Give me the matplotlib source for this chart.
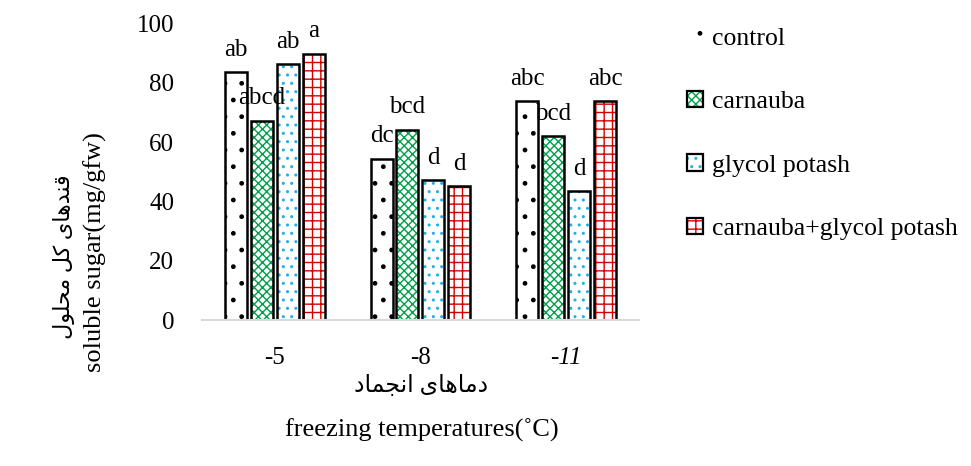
import numpy as np
import matplotlib.pyplot as plt
from matplotlib.patches import Patch
from matplotlib.legend_handler import HandlerTuple

temps = ['-5', '-8', '-11']
series = ['control', 'carnauba', 'glycol potash', 'carnauba+glycol potash']
values = [
    [83.6, 54.4, 73.8],  # control
    [67.2, 64.2, 62.0],  # carnauba
    [86.2, 47.1, 43.5],  # glycol potash
    [89.8, 45.2, 73.7],  # carnauba+glycol potash
]
letters = [
    ['ab', 'dc', 'abc'],
    ['abcd', 'bcd', 'bcd'],
    ['ab', 'd', 'd'],
    ['a', 'd', 'abc'],
]

# persian labels, written in visual order with presentation forms
fa_x = '\uFEA9\uFE8E\uFEE4\uFEA0\uFEE7\uFE8D \uFBFC\uFE8E\uFEEB\uFE8E\uFEE3\uFEA9'
fa_y = '\uFEDD\uFEEE\uFEE0\uFEA4\uFEE3 \uFEDE\uFB90 \uFBFC\uFE8E\uFEEB\uFEAA\uFEE8\uFED7'

hatch_cols = ['black', '#00a04a', '#1fb0e8', '#d40000']
hatches = ['.', 'xxxx', '..', '++']

plt.rcParams['font.family'] = ['Liberation Serif', 'DejaVu Sans']
plt.rcParams['hatch.linewidth'] = 1.0

fig = plt.figure(figsize=(9.71, 4.66), dpi=100)
ax = fig.add_axes([0.208, 0.313, 0.450, 0.637])

x = np.arange(len(temps))
w = 0.151
step = 0.178
handles = []
for i, s in enumerate(series):
    pos = x + (i - 1.5) * step
    ax.bar(pos, values[i], w, color='white', edgecolor=hatch_cols[i],
           hatch=hatches[i], linewidth=0)
    ax.bar(pos, values[i], w, fill=False, edgecolor='black', linewidth=1.8)
    for p, v, t in zip(pos, values[i], letters[i]):
        ax.text(p, v + 5.5, t, ha='center', va='baseline', fontsize=18)
    h1 = Patch(facecolor='white', edgecolor=hatch_cols[i], hatch=hatches[i], linewidth=0)
    if i == 0:
        handles.append(h1)
    else:
        h2 = Patch(fill=False, edgecolor='black', linewidth=1.6)
        handles.append((h1, h2))

ax.set_xlim(-0.5, 2.5)
ax.set_ylim(0, 100)
ax.set_yticks(range(0, 101, 20))
ax.set_xticks(x)
ax.set_xticklabels(temps, fontsize=18)
ax.get_xticklabels()[2].set_style('italic')
ax.tick_params(axis='y', labelsize=18, length=0, pad=20)
ax.tick_params(axis='x', length=0, pad=19)
for sp in ['top', 'right', 'left']:
    ax.spines[sp].set_visible(False)
ax.spines['bottom'].set_color('#d9d9d9')
ax.spines['bottom'].set_linewidth(1.5)

fig.text(0.434, 0.172, fa_x, ha='center', va='center', fontsize=17)
fig.text(0.434, 0.077, 'freezing temperatures(\u02daC)', ha='center', va='center', fontsize=19)
fig.text(0.066, 0.45, fa_y, ha='center', va='center', rotation=90, fontsize=16)
fig.text(0.098, 0.46, 'soluble sugar(mg/gfw)', ha='center', va='center', rotation=90, fontsize=19)

fig.legend(handles, series, loc='upper left', bbox_to_anchor=(0.684, 0.99),
           frameon=False, fontsize=18.5, labelspacing=1.6, handlelength=0.6,
           handleheight=0.6, handletextpad=0.35,
           handler_map={tuple: HandlerTuple(ndivide=1, pad=0)})

fig.savefig('out.png', dpi=100)
